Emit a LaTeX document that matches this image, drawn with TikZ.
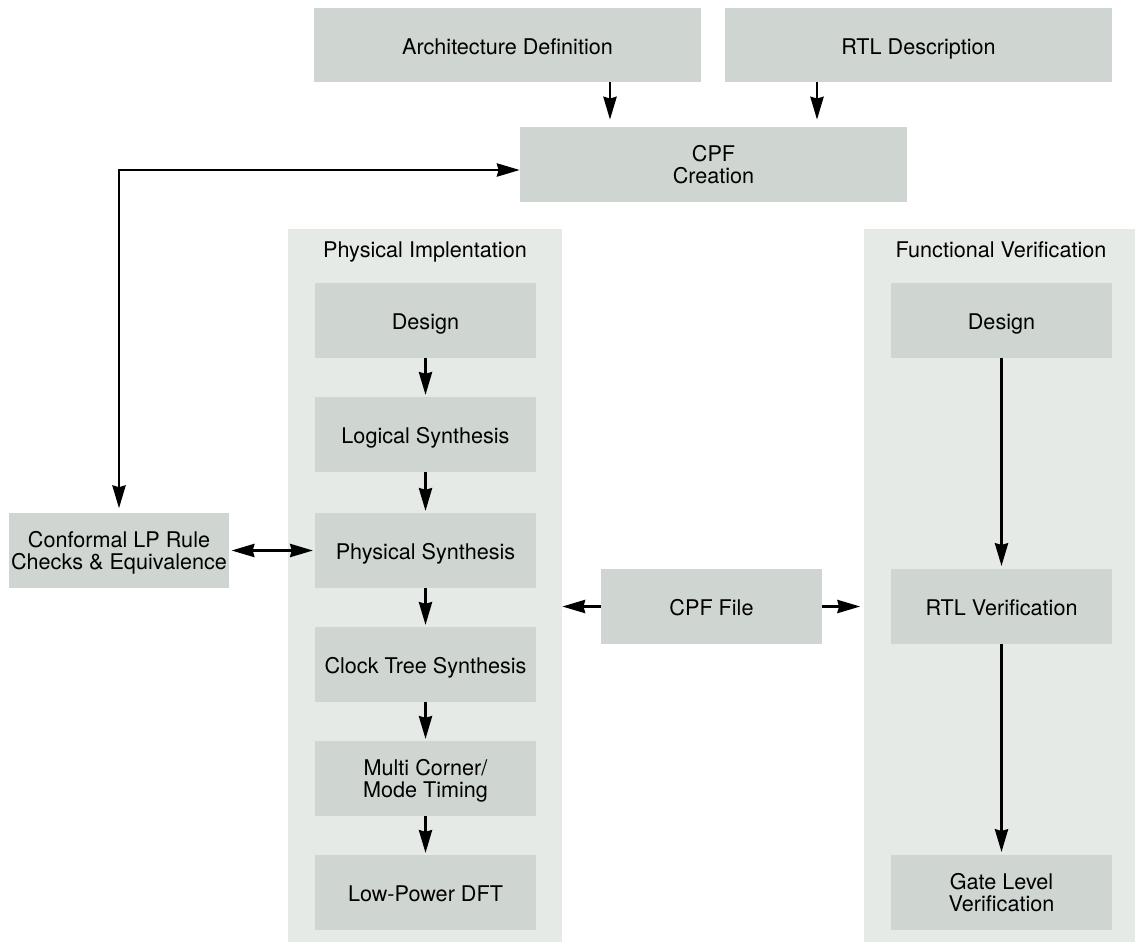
\documentclass[tikz,border=0pt]{standalone}
\usepackage{fontspec}
\setmainfont{TeX Gyre Heros}
\usepackage{tikz}
\usetikzlibrary{arrows.meta}
\tikzset{>={Stealth[length=13pt,width=7.5pt,inset=1pt]}}
\usepackage{xcolor}
\definecolor{boxgray}{HTML}{CFD6D2}
\definecolor{panelgray}{HTML}{E6EAE7}
\tikzset{
  stepbox/.style={fill=boxgray, inner sep=0pt, align=center, text depth=0pt,
    minimum width=4.42cm, minimum height=1.5cm},
  oneline/.style={text height=10.5pt, text depth=0pt},
  widebox/.style={stepbox, minimum width=7.74cm},
  panel/.style={fill=panelgray, inner sep=0pt, minimum width=5.48cm, minimum height=14.26cm},
  flow/.style={->, line width=1.5pt}
}

\begin{document}
\begin{tikzpicture}[x=0.02cm, y=-0.02cm, font=\fontsize{12.3}{12.6}\selectfont]
                \useasboundingbox (0,0) rectangle (1135,943);
                % Spezifikation oben
                \node[widebox, oneline, minimum height=1.48cm] (arch) at (507.5,45) {Architecture Definition};
                \node[widebox, oneline, minimum height=1.48cm] (rtl) at (918.5,45) {RTL Description};
                \node[widebox] (cpf) at (713.5,164.5) {CPF\\Creation};
                \draw[flow, shorten >=4pt] (610,0 |- arch.south) -- (610,0 |- cpf.north);
                \draw[flow, shorten >=4pt] (817,0 |- rtl.south) -- (817,0 |- cpf.north);
                % Panels
                \node[panel] (phys) at (425,585.5) {};
                \node[panel, minimum width=5.42cm] (func) at (999.5,585.5) {};
                \node[oneline] (physttl) at (425,248) {Physical Implentation};
                \node[oneline] (functtl) at (1001,248) {Functional Verification};
                % Physical Implentation
                \node[stepbox, oneline] (pdes) at (425.5,320.5) {Design};
                \node[stepbox, oneline] (plog) at (425.5,434.5) {Logical Synthesis};
                \node[stepbox, oneline] (psyn) at (425.5,550.5) {Physical Synthesis};
                \node[stepbox, oneline] (pcts) at (425.5,664.5) {Clock Tree Synthesis};
                \node[stepbox] (pmcm) at (425.5,778.5) {Multi Corner/\\Mode Timing};
                \node[stepbox, oneline] (pdft) at (425.5,892.5) {Low-Power DFT};
                \foreach \a/\b in {pdes/plog, plog/psyn, psyn/pcts, pcts/pmcm, pmcm/pdft}
                    \draw[flow, shorten >=1pt] (\a.south) -- (\b.north);
                % Functional Verification
                \node[stepbox, oneline] (fdes) at (1001.5,320.5) {Design};
                \node[stepbox, oneline] (frtl) at (1001.5,606.5) {RTL Verification};
                \node[stepbox] (fgate) at (1001.5,892.5) {Gate Level\\Verification};
                \draw[flow, shorten >=1.5pt] (fdes.south) -- (frtl.north);
                \draw[flow, shorten >=1.5pt] (frtl.south) -- (fgate.north);
                % Conformal + CPF File
                \node[stepbox] (conf) at (119,550.5) {Conformal LP Rule\\Checks \& Equivalence};
                \node[stepbox, oneline] (cpffile) at (711.5,606.5) {CPF File};
                \draw[flow, <->, shorten >=2.5pt] ([yshift=-0.11cm]cpf.west) -| (conf.north);
                \draw[flow, <->, shorten <=1pt, shorten >=1pt] (conf.east) -- (psyn.west);
                \draw[flow] (cpffile.west) -- (cpffile.west -| phys.east);
                \draw[flow, shorten >=2pt] (cpffile.east) -- (cpffile.east -| func.west);
            \end{tikzpicture}
\end{document}
